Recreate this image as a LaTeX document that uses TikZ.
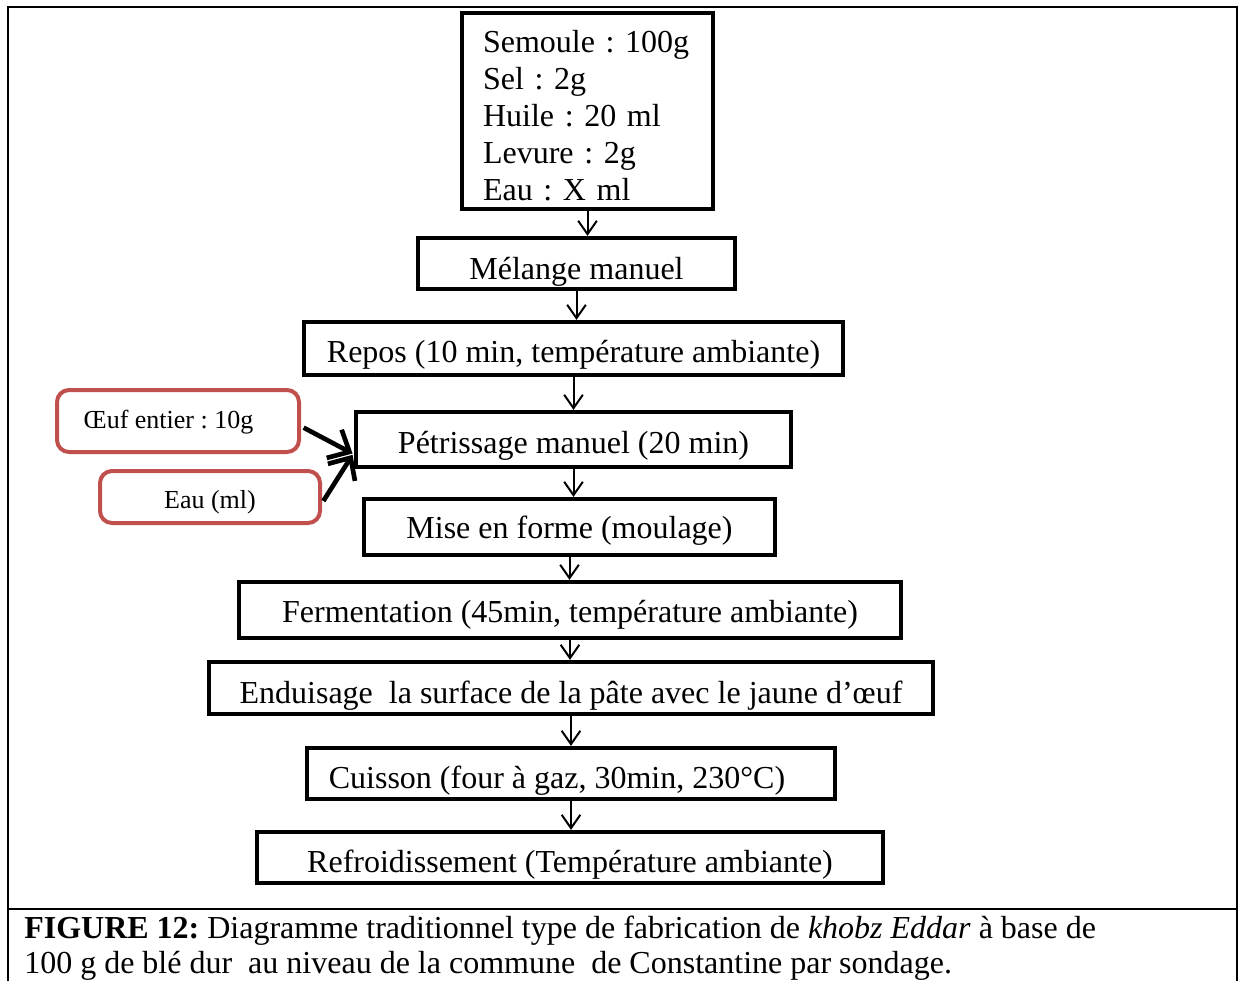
\documentclass[tikz,border=0pt]{standalone}
\usepackage{fontspec}
\setmainfont{Liberation Serif}
\usetikzlibrary{arrows.meta}
\definecolor{boxred}{HTML}{C0504D}
\newcommand{\bigtxt}{\fontsize{24}{27.75}\selectfont}
\newcommand{\smalltxt}{\fontsize{19.5}{23}\selectfont}
\frenchspacing
\tikzset{
  stage/.style={draw, line width=3.2pt, inner sep=0pt, font=\bigtxt},
  extra/.style={draw=boxred, rounded corners=9pt, line width=3pt, inner sep=0pt, font=\smalltxt},
  flow/.style={line width=1.5pt, -{Straight Barb[length=10pt,width=14pt,line width=1.5pt]}},
  feed/.style={line width=3.5pt, -{Straight Barb[length=13pt,width=24pt,line width=3.5pt]}},
  frame/.style={line width=1.5pt},
  caption/.style={anchor=base west, inner sep=0pt, font=\bigtxt}
}
\begin{document}
\begin{tikzpicture}[x=0.75pt,y=-0.75pt]
\useasboundingbox[fill=white] (0,0) rectangle (1244,981);

% outer frame and caption separator
\draw[frame] (8,981) -- (8,7) -- (1237,7) -- (1237,981);
\draw[frame] (8,909) -- (1237,909);

% ingredients
\node[stage, minimum width=188.25pt, minimum height=147pt, align=left,
      text width=156.75pt, inner xsep=15.75pt] (ing) at (587.5,111)
  {\rule{0pt}{24pt}Semoule : 100g\\Sel : 2g\\Huile : 20 ml\\Levure : 2g\\Eau : X ml};

% process steps
\node[stage, minimum width=237.75pt, text height=30.75pt, text depth=7.5pt] (mel) at (576.5,263.5) {Mélange manuel};
\node[stage, minimum width=404.25pt, text height=30pt, text depth=9.75pt] (rep) at (573.5,348.5) {Repos (10 min, température ambiante)};
\node[stage, minimum width=326.25pt, text height=30.75pt, text depth=10.5pt] (pet) at (573.5,439.5) {Pétrissage manuel (20 min)};
\node[stage, minimum width=308.25pt, text height=29.25pt, text depth=12.75pt] (mis) at (569.5,527) {Mise en forme (moulage)};
\node[stage, minimum width=496.5pt, text height=30pt, text depth=12pt] (fer) at (570,610) {Fermentation (45min, température ambiante)};
\node[stage, minimum width=543pt, text height=30.75pt, text depth=8.25pt] (enf) at (571,688) {Enduisage~ la surface de la pâte avec le jaune d’œuf};
\node[stage, minimum width=396pt, text height=30pt, text depth=8.25pt] (cui) at (571,773.5) {Cuisson (four à gaz, 30min, 230°C)\hspace*{21pt}};
\node[stage, minimum width=469.5pt, text height=30pt, text depth=8.25pt] (ref) at (570,857.5) {Refroidissement (Température ambiante)};

% additions during kneading
\node[extra, minimum width=181.5pt, text height=28.5pt, text depth=18pt] (oeuf) at (178,421) {Œuf entier : 10g\hspace*{14.25pt}};
\node[extra, minimum width=165pt, text height=27.75pt, text depth=11.25pt] (eau) at (210,497) {Eau (ml)};

% flow arrows
\foreach \a/\b in {ing/mel, mel/rep, rep/pet, pet/mis, mis/fer, fer/enf, enf/cui, cui/ref}
  \draw[flow] (\a.south) -- (\a.south |- \b.north);

\draw[feed] ([yshift=-5pt,xshift=2pt]oeuf.east) -- ([yshift=-10.5pt,xshift=-1pt]pet.west);
\draw[feed] ([yshift=-3pt,xshift=1pt]eau.east) -- ([yshift=-11.5pt,xshift=-1pt]pet.west);

% caption
\node[caption] (cap1) at (24,938) {\textbf{FIGURE 12:} Diagramme traditionnel type de fabrication de \textit{khobz Eddar} à base de};
\node[caption] (cap2) at (24,973) {100 g de blé dur~ au niveau de la commune~ de Constantine par sondage.};
\end{tikzpicture}
\end{document}
